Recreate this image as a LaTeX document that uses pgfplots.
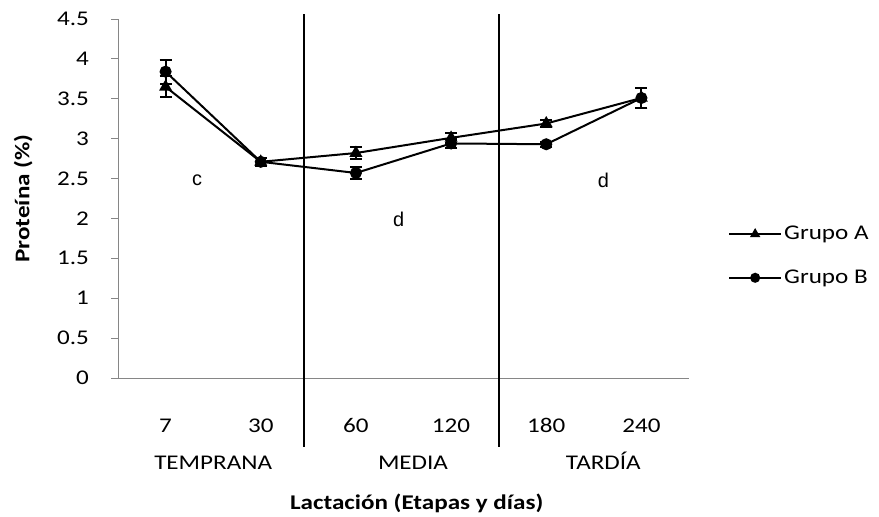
\documentclass[border=0pt]{standalone}
\usepackage{pgfplots}
\pgfplotsset{compat=1.18}
\usepackage{pgfplotstable}
\usepackage{fontspec}
\setmainfont{Carlito}[FakeStretch=1.2]
\newfontfamily\arialfont{Liberation Sans}

\definecolor{axgray}{RGB}{134,134,134}

% Protein content per lactation day: mean and error for each group
\pgfplotstableread{
x  yA   eA   yB   eB
0  3.65 0.13 3.84 0.15
1  2.71 0.05 2.71 0.05
2  2.82 0.08 2.57 0.07
3  3.01 0.06 2.94 0.06
4  3.19 0.05 2.93 0.03
5  3.51 0.12 3.51 0.12
}\proteina

\newcommand{\chartfont}{\fontsize{21}{25}\selectfont}

\begin{document}
\chartfont
\begin{tikzpicture}
\path[use as bounding box] (0,0) rectangle (879bp,517bp);
\begin{axis}[
  at={(118bp,139bp)}, anchor=south west,
  scale only axis, width=571bp, height=359bp,
  xmin=-0.5, xmax=5.5, ymin=0, ymax=4.5,
  clip=false,
  axis x line*=bottom, axis y line*=left,
  axis line style={axgray, line width=0.9bp},
  ytick={0,0.5,1,1.5,2,2.5,3,3.5,4,4.5},
  /pgf/number format/assume math mode=true,
  yticklabel style={/pgf/number format/fixed, /pgf/number format/precision=1,
    font=\chartfont, xshift=-15bp},
  y tick style={axgray, line width=0.9bp},
  tick align=outside, major tick length=7bp,
  xtick={0,1,2,3,4,5}, xticklabels={7,30,60,120,180,240},
  x tick style={draw=none},
  xticklabel style={yshift=-24bp, font=\chartfont, text height=1.6ex, text depth=0.3ex},
  ylabel={\bfseries Proteína (\%)},
  ylabel style={at={(axis description cs:-0.166,0.5)}, anchor=center, rotate=0, font=\chartfont},
  xlabel={\bfseries Lactación (Etapas y días)},
  xlabel style={at={(axis description cs:0.523,-0.348)}, anchor=center, font=\chartfont},
  legend style={draw=none, fill=none, at={(1.063,0.34)}, anchor=west,
    row sep=23bp, font=\chartfont},
  legend cell align=left,
  legend image code/.code={%
    \draw[line width=2bp, mark repeat=2, mark phase=2, mark size=4bp]
      plot coordinates {(0bp,0bp) (26bp,0bp) (52bp,0bp)};},
]
\addplot[black, line width=2bp, mark=triangle*, mark size=5.5bp,
  mark options={solid},
  error bars/.cd, y dir=both, y explicit,
  error bar style={line width=2bp, black},
  error mark options={rotate=90, mark size=6bp, line width=2bp, black}]
  table[x=x, y=yA, y error=eA] {\proteina};
\addlegendentry{Grupo A}
\addplot[black, line width=2bp, mark=*, mark size=5bp,
  error bars/.cd, y dir=both, y explicit,
  error bar style={line width=2bp, black},
  error mark options={rotate=90, mark size=6bp, line width=2bp, black}]
  table[x=x, y=yB, y error=eB] {\proteina};
\addlegendentry{Grupo B}

% stage separators
\draw[black, line width=2bp] (axis cs:1.45,4.56) -- (axis cs:1.45,-0.86);
\draw[black, line width=2bp] (axis cs:3.5,4.56) -- (axis cs:3.5,-0.86);

% stage names, on a common baseline
\node[anchor=base] at (axis cs:0.5,-1.15) {TEMPRANA};
\node[anchor=base] at (axis cs:2.6,-1.15) {MEDIA};
\node[anchor=base] at (axis cs:4.6,-1.15) {TARDÍA};

% significance letters
\node[font=\arialfont\fontsize{20}{24}\selectfont] at (axis cs:0.33,2.48) {c};
\node[font=\arialfont\fontsize{20}{24}\selectfont] at (axis cs:2.45,1.99) {d};
\node[font=\arialfont\fontsize{20}{24}\selectfont] at (axis cs:4.6,2.48) {d};
\end{axis}
\end{tikzpicture}
\end{document}
